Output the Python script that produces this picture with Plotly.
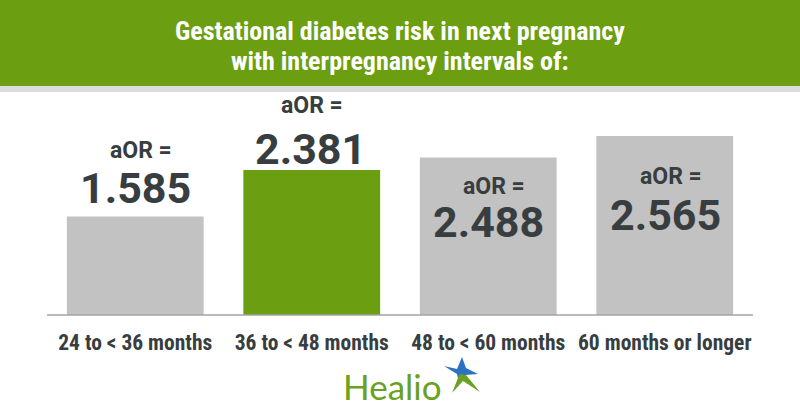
import plotly.graph_objects as go

categories = ["24 to < 36 months", "36 to < 48 months", "48 to < 60 months", "60 months or longer"]
aor_values = ["1.585", "2.381", "2.488", "2.565"]
# displayed bar heights (relative to the tallest bar = 100)
bar_heights = [55, 81, 88, 100]
highlight = [False, True, False, False]

title_lines = ["Gestational diabetes risk in next pregnancy", "with interpregnancy intervals of:"]

W, H = 800, 420
ML, MR, MT, MB = 47, 47, 100, 105
PW, PH = W - ML - MR, H - MT - MB

def px(x):
    return (x - ML) / PW

def py(y):
    return (H - MB - y) / PH

GREEN = "#6b9e10"
GRAY = "#c2c2c2"
DARK = "#383d40"
COND = "Liberation Sans Narrow, Roboto Condensed, DejaVu Sans Condensed, sans-serif"

fig = go.Figure()
fig.add_trace(go.Bar(
    x=categories, y=bar_heights,
    marker=dict(color=[GREEN if h else GRAY for h in highlight], line=dict(width=0)),
    hoverinfo="skip",
))

shapes = [
    dict(type="rect", xref="paper", yref="paper", x0=px(0), x1=px(W), y0=py(0), y1=py(86),
         fillcolor=GREEN, line=dict(width=0), layer="above"),
    dict(type="rect", xref="paper", yref="paper", x0=px(0), x1=px(W), y0=py(86), y1=py(92),
         fillcolor="#dcdcdc", line=dict(width=0), layer="above"),
    dict(type="line", xref="paper", yref="paper", x0=0, x1=1, y0=0, y1=0,
         line=dict(color="#a3a3a3", width=1.5), layer="above"),
]

# Healio star logo
def path(points, dx=0, dy=0):
    return "M " + " L ".join(f"{px(x + dx):.5f},{py(y + dy):.5f}" for x, y in points) + " Z"

blue_star = [(443, 362), (456, 365), (461, 353), (465, 364), (477, 370),
             (464, 371), (458, 379), (456, 370)]
green_spike = [(459, 371), (465, 372), (479, 389), (462, 378), (451, 390), (457, 375)]
shapes.append(dict(type="path", xref="paper", yref="paper", path=path(blue_star, 1, 4),
                   fillcolor="#2b73c2", line=dict(width=0)))
shapes.append(dict(type="path", xref="paper", yref="paper", path=path(green_spike, 1, 3),
                   fillcolor="#6aa121", line=dict(width=0)))

annotations = []
for i, line in enumerate(title_lines):
    annotations.append(dict(text=f"<b>{line}</b>", xref="paper", yref="paper",
                            x=px(400), y=py(31 + 30 * i), xanchor="center", yanchor="middle",
                            showarrow=False, font=dict(family=COND, size=26, color="white")))

# label positions (pixel centers) for "aOR =" and the value
label_pos = [((141, 150), (135, 188)), ((312, 105), (310, 149)),
             ((494, 186), (488, 222)), ((671, 176), (665, 215))]
for (a, v), val in zip(label_pos, aor_values):
    annotations.append(dict(text="<b>aOR =</b>", xref="paper", yref="paper",
                            x=px(a[0]), y=py(a[1]), xanchor="center", yanchor="middle",
                            showarrow=False, font=dict(family="Roboto", size=23, color=DARK)))
    annotations.append(dict(text=f"<b>{val}</b>", xref="paper", yref="paper",
                            x=px(v[0]), y=py(v[1]), xanchor="center", yanchor="middle",
                            showarrow=False, font=dict(family="Roboto", size=43, color=DARK)))

annotations.append(dict(text="Healio", xref="paper", yref="paper", x=px(392), y=py(386),
                        xanchor="center", yanchor="middle", showarrow=False,
                        font=dict(family="Lato", size=35, color="#6aa121")))

fig.update_layout(
    width=W, height=H,
    margin=dict(l=ML, r=MR, t=MT, b=MB, autoexpand=False),
    paper_bgcolor="white", plot_bgcolor="white",
    bargap=0.225, showlegend=False,
    shapes=shapes, annotations=annotations,
    xaxis=dict(showgrid=False, zeroline=False, showline=False, ticks="",
               tickfont=dict(family=COND, size=21.5, color=DARK),
               ticklabelstandoff=12, fixedrange=True),
    yaxis=dict(range=[0, 100 * PH / 179], visible=False, fixedrange=True),
)
fig.update_xaxes(tickvals=categories, ticktext=[f"<b>{c}</b>" for c in categories])

fig.write_html("out.html", config={"displayModeBar": False},
               post_script="document.body.style.margin='0';document.body.style.padding='0';")
